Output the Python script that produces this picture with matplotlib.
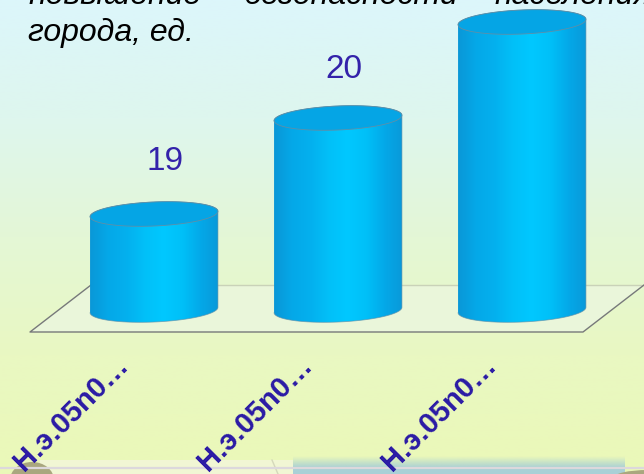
import matplotlib
matplotlib.use("Agg")
import matplotlib.pyplot as plt
import numpy as np
from matplotlib.colors import LinearSegmentedColormap
from matplotlib.patches import Ellipse, PathPatch, Polygon, Rectangle
from matplotlib.path import Path as MplPath

plt.rcParams["font.family"] = ["Liberation Sans", "DejaVu Sans"]

W, H = 644, 474

# ----- data -----
categories = ["Н.э.05n0…", "Н.э.05n0…", "Н.э.05n0…"]
values = [19, 20, 21]
value_min = 18
header_words = ["повышение", "безопасности", "населения"]
header_line2 = "города, ед."

TEXT_BLUE = "#3322aa"
BAR_CMAP = LinearSegmentedColormap.from_list(
    "cyl", ["#0a96d6", "#05a8e8", "#04b0ee", "#02c0f8", "#00c8ff", "#00c0f8", "#04a8e8", "#0a98d8"]
)

# scale of the chart, pixels per unit
PX_PER_CAT = 184.0
PX_PER_VAL = 96.0
X0, Y0 = 154.0, 310.0
HALF_W, RY, TILT = 64.0, 12.0, np.deg2rad(2.5)

fig = plt.figure(figsize=(W / 100, H / 100), dpi=100)

# background + floor in pixel coords
bg = fig.add_axes([0, 0, 1, 1])
bg.set_xlim(0, W)
bg.set_ylim(H, 0)
bg.axis("off")
grad = np.linspace(0, 1, 256).reshape(-1, 1)
bg_cmap = LinearSegmentedColormap.from_list(
    "bg", ["#dcf6fb", "#def6ee", "#e4f7d6", "#e9f8c2", "#ebf8b8"]
)
bg.imshow(grad, cmap=bg_cmap, extent=[0, W, H, 0], aspect="auto", zorder=0)

floor = [(30, 332), (583, 332), (644, 285), (91, 285)]
bg.add_patch(Polygon(floor, closed=True, facecolor="#eaf6da", edgecolor="none", zorder=1))
bg.plot([91, 644], [285, 285], color="#c9d2b8", lw=1, zorder=2)
bg.plot([91, 30, 583, 644], [285, 332, 332, 285], color="#77797a", lw=1, zorder=2)

# decorated strip at the very bottom
fade = np.zeros((32, 2, 4))
fade[..., :3] = matplotlib.colors.to_rgb("#a9d0d6")
fade[..., 3] = np.linspace(0, 1, 32)[:, None]
bg.imshow(fade, extent=[293, 625, 468, 456], aspect="auto", zorder=1)
bg.add_patch(Rectangle((293, 468), 332, 6, facecolor="#a9d0d6", edgecolor="none", zorder=1))
bg.add_patch(Rectangle((40, 460), 253, 14, facecolor="#f1f6d4", edgecolor="none", zorder=1))
bg.plot([272, 278], [460, 474], color="#d5d8bb", lw=1, zorder=1)
bg.add_patch(Ellipse((32, 480), 44, 36, facecolor="#a9a77e", edgecolor="none", zorder=1))
bg.add_patch(Ellipse((648, 478), 70, 16, facecolor="#a9a77e", edgecolor="none", zorder=1))
bg.plot([0, W], [468, 468], color="#dcd8dc", lw=1.6, zorder=2)

# chart axes sharing the same canvas, in category / value coords
ax = fig.add_axes([0, 0, 1, 1])
ax.patch.set_alpha(0)
ax.axis("off")
x_lim = (-X0 / PX_PER_CAT, (W - X0) / PX_PER_CAT)
y_lim = (value_min - (H - Y0) / PX_PER_VAL, value_min + Y0 / PX_PER_VAL)

label_dx = [11, 6]
label_dy = [53, 48]


def ellipse_xy(cx, val, t):
    dx = HALF_W * np.cos(t)
    dy = RY * np.sin(t)
    px = dx * np.cos(TILT) - dy * np.sin(TILT)
    py = dx * np.sin(TILT) + dy * np.cos(TILT)
    return cx + px / PX_PER_CAT, val + py / PX_PER_VAL


for i, val in enumerate(values):
    # body outline: upper half of the base ellipse is hidden
    bx, by = ellipse_xy(i, value_min, np.linspace(np.pi, 2 * np.pi, 60))
    tx, ty = ellipse_xy(i, val, np.linspace(0, np.pi, 60))
    body = np.column_stack([np.r_[bx, tx], np.r_[by, ty]])
    patch = PathPatch(MplPath(np.vstack([body, body[0]]), closed=True),
                      facecolor="none", edgecolor="none", zorder=3)
    ax.add_patch(patch)
    hw = HALF_W / PX_PER_CAT * 1.02
    im = ax.imshow(np.linspace(0, 1, 256).reshape(1, -1), cmap=BAR_CMAP, aspect="auto",
                   extent=[i - hw, i + hw, value_min - 0.3, val + 0.3], zorder=3)
    im.set_clip_path(patch)
    ax.plot(body[:, 0], body[:, 1], color="#5f8fa8", lw=0.6, alpha=0.7, zorder=4)

    ex, ey = ellipse_xy(i, val, np.linspace(0, 2 * np.pi, 120))
    ax.fill(ex, ey, facecolor="#05a5e5", edgecolor="#5f8fa8", lw=0.6, zorder=5)

    # the third bar's value label falls outside the picture
    if i < len(label_dx):
        ax.annotate(str(val), xy=(i, val), xytext=(label_dx[i], label_dy[i]),
                    textcoords="offset pixels", color=TEXT_BLUE, fontsize=24,
                    ha="center", va="center", zorder=6)
    ax.annotate(categories[i], xy=(i, value_min), xytext=(-130, -162), textcoords="offset pixels",
                rotation=45, rotation_mode="anchor", ha="left", va="baseline",
                color="#2a1aa5", fontsize=21, fontweight="bold", zorder=6)

ax.set_xlim(x_lim)
ax.set_ylim(y_lim)

# header text, cut by the top edge
for word, x in zip(header_words, [28, 243, 494]):
    ax.annotate(word, xy=(x / W, 1 - 4 / H), xycoords="axes fraction", fontsize=23, style="italic",
                color="black", ha="left", va="baseline", zorder=6)
ax.annotate(header_line2, xy=(28 / W, 1 - 41.5 / H), xycoords="axes fraction", fontsize=23,
            style="italic", color="black", ha="left", va="baseline", zorder=6)

fig.savefig("out.png", dpi=100)
